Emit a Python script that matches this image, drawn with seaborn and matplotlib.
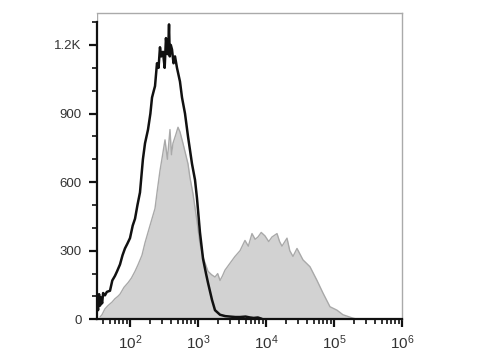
import numpy as np
import pandas as pd
import matplotlib
matplotlib.use("Agg")
import matplotlib.pyplot as plt
import seaborn as sns
from matplotlib.ticker import FixedLocator, LogLocator, NullFormatter

# ---- data (log10 of fluorescence, event count) ----
black_logx = [1.515, 1.53, 1.545, 1.56, 1.574, 1.59, 1.605, 1.632, 1.66, 1.706, 1.74, 1.779, 1.81,
              1.853, 1.89, 1.926, 1.96, 2.0, 2.04, 2.074, 2.11, 2.147, 2.19, 2.221, 2.265, 2.3,
              2.324, 2.35, 2.368, 2.397, 2.42, 2.441, 2.46, 2.485, 2.51, 2.529, 2.55, 2.565, 2.574,
              2.585, 2.60, 2.618, 2.64, 2.662, 2.691, 2.735, 2.765, 2.809, 2.853, 2.912, 2.956,
              2.985, 3.029, 3.074, 3.118, 3.147, 3.206, 3.25, 3.324, 3.40, 3.47, 3.55, 3.618,
              3.70, 3.765, 3.82, 3.88, 3.94]
black_cnt = [85, 40, 110, 60, 95, 70, 115, 105, 120, 125, 170, 190, 210, 240, 280, 310, 330, 355,
             410, 440, 500, 555, 700, 770, 830, 900, 970, 1000, 1020, 1120, 1100, 1190, 1150, 1170,
             1100, 1230, 1160, 1210, 1290, 1150, 1200, 1180, 1120, 1150, 1100, 1040, 970, 900, 800,
             680, 610, 530, 380, 265, 200, 160, 85, 40, 20, 14, 12, 10, 10, 12, 8, 6, 8, 2]

gray_logx = [1.559, 1.588, 1.63, 1.676, 1.735, 1.779, 1.82, 1.853, 1.912, 1.971, 2.02, 2.074,
             2.12, 2.176, 2.221, 2.294, 2.368, 2.40, 2.441, 2.48, 2.515, 2.55, 2.588, 2.61, 2.632,
             2.676, 2.706, 2.735, 2.779, 2.82, 2.853, 2.882, 2.926, 2.985, 3.029, 3.088, 3.147,
             3.20, 3.25, 3.29, 3.324, 3.36, 3.397, 3.47, 3.544, 3.618, 3.691, 3.74, 3.794, 3.84,
             3.882, 3.93, 3.985, 4.04, 4.088, 4.162, 4.20, 4.235, 4.309, 4.35, 4.397, 4.456, 4.544,
             4.647, 4.75, 4.838, 4.941, 5.044, 5.132, 5.279, 5.35]
gray_cnt = [10, 20, 45, 60, 75, 90, 100, 110, 140, 160, 180, 210, 240, 280, 335, 410, 485, 560,
            650, 720, 785, 700, 830, 720, 770, 810, 840, 820, 770, 720, 680, 620, 550, 430, 330,
            260, 210, 195, 185, 200, 170, 190, 215, 245, 275, 300, 345, 320, 375, 350, 360, 380,
            365, 340, 360, 375, 340, 320, 355, 300, 275, 310, 260, 230, 170, 115, 55, 40, 20, 5, 0]

y_ticks = [0, 300, 600, 900, 1200]
y_labels = ["0", "300", "600", "900", "1.2K"]
x_ticks = [1e2, 1e3, 1e4, 1e5, 1e6]
x_labels = [r"$\mathregular{10^{2}}$", r"$\mathregular{10^{3}}$", r"$\mathregular{10^{4}}$",
            r"$\mathregular{10^{5}}$", r"$\mathregular{10^{6}}$"]

black = pd.DataFrame({"x": np.power(10.0, black_logx), "count": black_cnt})
gray = pd.DataFrame({"x": np.power(10.0, gray_logx), "count": gray_cnt})

sns.set_style("white")
plt.rcParams["font.family"] = ["Liberation Sans", "DejaVu Sans"]
plt.rcParams["mathtext.fontset"] = "custom"
plt.rcParams["mathtext.rm"] = "Liberation Sans"

fig = plt.figure(figsize=(4.8, 3.6), dpi=100)
ax = fig.add_axes([0.2021, 0.113, 0.6354, 0.851])

ax.fill_between(gray["x"], 0, gray["count"], color="#d2d2d2", linewidth=0, zorder=1)
sns.lineplot(data=gray, x="x", y="count", ax=ax, color="#a9a9a9", linewidth=1.0,
             estimator=None, sort=False, zorder=2)
sns.lineplot(data=black, x="x", y="count", ax=ax, color="#111111", linewidth=1.8,
             estimator=None, sort=False, zorder=3)

ax.set_xscale("log")
ax.set_xlim(10 ** 1.515, 1e6)
ax.set_ylim(0, 1340)

ax.set_xticks(x_ticks)
ax.set_xticklabels(x_labels)
ax.xaxis.set_minor_locator(LogLocator(base=10, subs=np.arange(2, 10), numticks=20))
ax.xaxis.set_minor_formatter(NullFormatter())
ax.set_yticks(y_ticks)
ax.set_yticklabels(y_labels)
ax.yaxis.set_minor_locator(FixedLocator(list(range(0, 1400, 100))))

ax.tick_params(axis="both", which="major", direction="out", length=6, width=1.6,
               color="#111111", labelcolor="#333333", bottom=True, left=True)
ax.tick_params(axis="y", which="major", labelsize=9.5, pad=5)
ax.tick_params(axis="x", which="major", labelsize=11, pad=4)
ax.tick_params(axis="both", which="minor", direction="out", length=3.5, width=1.2,
               color="#111111", bottom=True, left=True)

ax.set_xlabel("")
ax.set_ylabel("")

for side in ["top", "right"]:
    ax.spines[side].set_color("#aaaaaa")
    ax.spines[side].set_linewidth(1.0)
ax.spines["left"].set_color("#111111")
ax.spines["left"].set_linewidth(1.6)
ax.spines["left"].set_bounds(0, 1300)
ax.spines["bottom"].set_color("#111111")
ax.spines["bottom"].set_linewidth(1.6)
ax.axvline(10 ** 1.515, ymin=1300 / 1340, ymax=1, color="#aaaaaa", linewidth=1.0)

fig.savefig("out.png", dpi=100)
